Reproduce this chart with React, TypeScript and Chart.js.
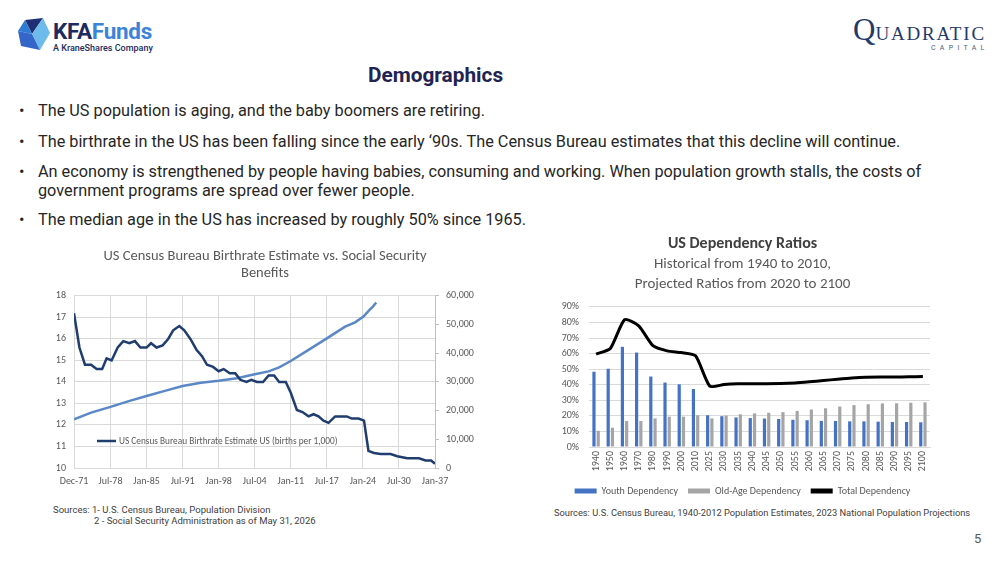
import React, { useEffect, useRef } from 'react';
import { Chart, registerables } from 'chart.js';

Chart.register(...registerables);

// ---------- Left chart data ----------
const birthYears = [1971.92, 1972.9, 1973.9, 1975.0, 1976.0, 1977.0, 1977.8, 1978.7, 1979.8, 1980.8, 1981.9, 1982.9, 1983.9, 1985.0, 1985.8, 1986.8, 1987.9, 1988.9, 1989.8, 1990.9, 1991.8, 1992.9, 1994.0, 1995.0, 1995.9, 1997.0, 1998.0, 1998.9, 2000.0, 2001.0, 2001.9, 2003.0, 2003.9, 2004.9, 2006.0, 2007.0, 2008.0, 2008.9, 2010.1, 2011.0, 2012.1, 2013.1, 2014.2, 2015.1, 2016.0, 2016.9, 2017.8, 2019.0, 2019.9, 2021.1, 2022.0, 2023.2, 2024.2, 2025.0, 2026.0, 2027.2, 2029.0, 2030.2, 2032.0, 2034.1, 2035.3, 2036.3, 2037.0];
const birthRates = [17.2, 15.6, 14.8, 14.8, 14.6, 14.6, 15.1, 15.0, 15.6, 15.9, 15.8, 15.9, 15.6, 15.6, 15.8, 15.6, 15.7, 16.0, 16.4, 16.6, 16.4, 16.0, 15.5, 15.2, 14.8, 14.7, 14.5, 14.6, 14.4, 14.4, 14.1, 14.0, 14.1, 14.0, 14.0, 14.3, 14.3, 14.0, 14.0, 13.5, 12.7, 12.6, 12.4, 12.5, 12.4, 12.2, 12.1, 12.4, 12.4, 12.4, 12.3, 12.3, 12.2, 10.8, 10.7, 10.65, 10.65, 10.55, 10.45, 10.45, 10.35, 10.35, 10.2];
const ssYears = [1971.92, 1975.0, 1978.5, 1981.8, 1985.0, 1988.3, 1991.5, 1994.8, 1998.0, 2001.3, 2004.5, 2007.0, 2008.9, 2011.0, 2014.2, 2017.5, 2020.8, 2022.6, 2024.1, 2025.2, 2025.8, 2026.4];
const ssBenefits = [17000, 19300, 21300, 23300, 25100, 26900, 28600, 29700, 30400, 31300, 32700, 33700, 35100, 37300, 41200, 45200, 49300, 50800, 52800, 55100, 56300, 57700];
const leftTickYears = [1971.92, 1978.5, 1985, 1991.5, 1998, 2004.5, 2011, 2017.5, 2024, 2030.5, 2037];
const leftTickLabels = ['Dec-71', 'Jul-78', 'Jan-85', 'Jul-91', 'Jan-98', 'Jul-04', 'Jan-11', 'Jul-17', 'Jan-24', 'Jul-30', 'Jan-37'];
const birthLabel = 'US Census Bureau Birthrate Estimate US (births per 1,000)';
const ssLabel = 'Social Security Benefits';
const leftTitle = ['US Census Bureau Birthrate Estimate vs. Social Security', 'Benefits'];

// ---------- Right chart data ----------
const depYears = ['1940', '1950', '1960', '1970', '1980', '1990', '2000', '2010', '2025', '2030', '2035', '2040', '2045', '2050', '2055', '2060', '2065', '2070', '2075', '2080', '2085', '2090', '2095', '2100'];
const youthDep = [48.4, 50.3, 64.4, 60.7, 45.3, 41.4, 40.3, 37.3, 20.4, 19.8, 19.0, 18.6, 18.3, 18.0, 17.5, 17.2, 16.8, 16.7, 16.5, 16.5, 16.3, 16.1, 16.1, 15.9];
const oldAgeDep = [10.4, 12.4, 16.7, 16.7, 18.4, 19.5, 19.5, 20.4, 18.4, 20.2, 21.0, 21.6, 22.0, 22.4, 23.2, 24.1, 24.9, 26.0, 26.9, 27.5, 28.0, 28.1, 28.4, 28.7];
const totalDep = [59.7, 63.3, 81.8, 77.9, 65.1, 61.8, 60.7, 58.6, 39.1, 40.1, 40.6, 40.7, 40.7, 40.8, 41.2, 41.9, 42.7, 43.6, 44.4, 44.9, 45.0, 45.0, 45.1, 45.3];
const rightTitle = 'US Dependency Ratios';
const rightSubtitle = ['Historical from 1940 to 2010,', 'Projected Ratios from 2020 to 2100'];

// ---------- Slide text ----------
const bullets = [
  ['The US population is aging, and the baby boomers are retiring.'],
  ['The birthrate in the US has been falling since the early \u201890s. The Census Bureau estimates that this decline will continue.'],
  ['An economy is strengthened by people having babies, consuming and working. When population growth stalls, the costs of', 'government programs are spread over fewer people.'],
  ['The median age in the US has increased by roughly 50% since 1965.'],
];

const CHART_FONT = 'Carlito, Lato, sans-serif';
const GRID = '#D9D9D9';
const TXT = '#595959';

const insideLegend = {
  id: 'insideLegend',
  afterDraw(chart: any) {
    const { ctx, chartArea } = chart;
    const ds = chart.data.datasets[0];
    const x0 = chartArea.left + 23;
    const y = chartArea.bottom - 27;
    ctx.save();
    ctx.strokeStyle = ds.borderColor;
    ctx.lineWidth = 2.5;
    ctx.beginPath();
    ctx.moveTo(x0, y);
    ctx.lineTo(x0 + 19, y);
    ctx.stroke();
    ctx.fillStyle = TXT;
    ctx.font = `9.3px ${CHART_FONT}`;
    ctx.textBaseline = 'middle';
    ctx.fillText(ds.label, x0 + 22, y + 0.5);
    ctx.restore();
  },
};

function leftConfig(): any {
  return {
    type: 'line',
    data: {
      datasets: [
        {
          label: birthLabel,
          data: birthYears.map((x, i) => ({ x, y: birthRates[i] })),
          yAxisID: 'y',
          borderColor: '#1F3D6E',
          borderWidth: 2.5,
          pointRadius: 0,
          tension: 0,
        },
        {
          label: ssLabel,
          data: ssYears.map((x, i) => ({ x, y: ssBenefits[i] })),
          yAxisID: 'y1',
          borderColor: '#5A88C6',
          borderWidth: 2.5,
          pointRadius: 0,
          tension: 0,
        },
      ],
    },
    options: {
      animation: false,
      responsive: false,
      layout: { padding: 0 },
      plugins: {
        legend: { display: false },
        tooltip: { enabled: false },
        title: {
          display: true,
          text: leftTitle,
          color: TXT,
          font: { family: CHART_FONT, size: 14.5, weight: 'normal', lineHeight: 1.17 },
          padding: { top: 8, bottom: 14 },
        },
      },
      scales: {
        x: {
          type: 'linear',
          min: leftTickYears[0],
          max: leftTickYears[leftTickYears.length - 1],
          afterBuildTicks: (s: any) => {
            s.ticks = leftTickYears.map((v) => ({ value: v }));
          },
          afterFit: (s: any) => {
            s.height = 27;
          },
          ticks: {
            autoSkip: false,
            maxRotation: 0,
            padding: 7,
            color: TXT,
            font: { family: CHART_FONT, size: 10 },
            callback: (_v: any, i: number) => leftTickLabels[i],
          },
          grid: { color: GRID, drawTicks: false },
          border: { color: GRID },
        },
        y: {
          position: 'left',
          min: 10,
          max: 18,
          afterFit: (s: any) => {
            s.width = 34;
          },
          ticks: { stepSize: 1, autoSkip: false, padding: 8, color: TXT, font: { family: CHART_FONT, size: 10 } },
          grid: { color: GRID, drawTicks: false },
          border: { color: GRID },
        },
        y1: {
          position: 'right',
          min: 0,
          max: 60000,
          afterFit: (s: any) => {
            s.width = 55;
          },
          ticks: {
            stepSize: 10000,
            autoSkip: false,
            padding: 7,
            color: TXT,
            font: { family: CHART_FONT, size: 10 },
            callback: (v: number) => v.toLocaleString('en-US'),
          },
          grid: { drawOnChartArea: false, tickLength: 4, color: '#BFBFBF' },
          border: { color: '#BFBFBF' },
        },
      },
    },
    plugins: [insideLegend],
  };
}

function rightConfig(): any {
  return {
    type: 'bar',
    data: {
      labels: depYears,
      datasets: [
        {
          type: 'bar',
          label: 'Youth Dependency',
          data: youthDep,
          backgroundColor: '#4472C4',
          categoryPercentage: 0.6,
          barPercentage: 0.75,
          order: 1,
        },
        {
          type: 'bar',
          label: 'Old-Age Dependency',
          data: oldAgeDep,
          backgroundColor: '#A5A5A5',
          categoryPercentage: 0.6,
          barPercentage: 0.75,
          order: 1,
        },
        {
          type: 'line',
          label: 'Total Dependency',
          data: totalDep,
          borderColor: '#000000',
          backgroundColor: '#000000',
          borderWidth: 3,
          pointRadius: 0,
          tension: 0.2,
          order: 0,
        },
      ],
    },
    options: {
      animation: false,
      responsive: false,
      layout: { padding: { left: 0, right: 15, top: 0, bottom: 0 } },
      plugins: {
        tooltip: { enabled: false },
        title: {
          display: true,
          text: rightTitle,
          color: '#404040',
          font: { family: CHART_FONT, size: 16, weight: 'bold', lineHeight: 1.25 },
          padding: { top: 4, bottom: 0 },
        },
        subtitle: {
          display: true,
          text: rightSubtitle,
          color: TXT,
          font: { family: CHART_FONT, size: 15, weight: 'normal', lineHeight: 1.333 },
          padding: { top: 0, bottom: 13 },
        },
        legend: {
          position: 'bottom',
          labels: {
            boxWidth: 22,
            boxHeight: 5,
            padding: 10,
            color: TXT,
            font: { family: CHART_FONT, size: 10 },
            sort: (a: any, b: any) => a.datasetIndex - b.datasetIndex,
            generateLabels: (chart: any) => {
              const items = Chart.defaults.plugins.legend.labels.generateLabels(chart);
              return items.map((it: any) => ({ ...it, lineWidth: 0 }));
            },
          },
        },
      },
      scales: {
        x: {
          afterFit: (s: any) => {
            s.height = 29;
          },
          ticks: {
            autoSkip: false,
            minRotation: 90,
            maxRotation: 90,
            padding: 4,
            color: TXT,
            font: { family: CHART_FONT, size: 10 },
          },
          grid: { display: false, drawTicks: false },
          border: { color: GRID },
        },
        y: {
          min: 0,
          max: 90,
          afterFit: (s: any) => {
            s.width = 34;
          },
          ticks: {
            stepSize: 10,
            autoSkip: false,
            padding: 10,
            color: TXT,
            font: { family: CHART_FONT, size: 10 },
            callback: (v: number) => v + '%',
          },
          grid: { color: GRID, drawTicks: false },
          border: { display: false },
        },
      },
    },
  };
}

function ChartCanvas({ config, left, top, width, height }: any) {
  const ref = useRef<HTMLCanvasElement>(null);
  useEffect(() => {
    const chart = new Chart(ref.current as HTMLCanvasElement, config());
    return () => chart.destroy();
  }, []);
  return (
    <canvas
      ref={ref}
      width={width}
      height={height}
      style={{ position: 'absolute', left, top, width, height }}
    />
  );
}

const SLIDE_FONT = 'Roboto, "Noto Sans", sans-serif';

export default function App() {
  const lineTops = [100.5, 131.5, 161.5, 209.5];
  return (
    <div
      style={{
        position: 'absolute',
        left: 0,
        top: 0,
        width: 1000,
        height: 563,
        background: '#ffffff',
        overflow: 'hidden',
        fontFamily: SLIDE_FONT,
      }}
    >
      {/* KFA logo */}
      <svg width={60} height={60} style={{ position: 'absolute', left: 0, top: 0 }}>
        <polygon points="25,20 43,18 32,34" fill="#1E2F73" />
        <polygon points="25,20 32,34 18,31" fill="#2E7BD3" />
        <polygon points="43,18 50,33 40,50 32,34" fill="#6DBBEB" />
        <polygon points="18,31 32,34 40,50 21,46" fill="#3366C8" />
      </svg>
      <div style={{ position: 'absolute', left: 53, top: 18, fontSize: 22.5, fontWeight: 700, letterSpacing: -0.3, lineHeight: '26px', whiteSpace: 'nowrap' }}>
        <span style={{ color: '#1D2B5E' }}>KFA</span>
        <span style={{ color: '#3C84D8' }}>Funds</span>
      </div>
      <div style={{ position: 'absolute', left: 53, top: 43, fontSize: 9, fontWeight: 500, color: '#1D2B5E', lineHeight: '11px', whiteSpace: 'nowrap' }}>
        A KraneShares Company
      </div>

      {/* Quadratic logo */}
      <div style={{ position: 'absolute', left: 853, top: 15, fontFamily: '"Liberation Serif", serif', color: '#1F3A6B', whiteSpace: 'nowrap', lineHeight: '30px' }}>
        <span style={{ fontSize: 31 }}>Q</span>
        <span style={{ fontSize: 19, letterSpacing: 1.8 }}>UADRATIC</span>
      </div>
      <div style={{ position: 'absolute', left: 931, top: 44, fontSize: 7, letterSpacing: 4.3, color: '#4A5D80', fontFamily: SLIDE_FONT, lineHeight: '8px', whiteSpace: 'nowrap' }}>
        CAPITAL
      </div>

      {/* Title */}
      <div style={{ position: 'absolute', left: 0, width: 871, top: 62, textAlign: 'center', fontSize: 20.8, fontWeight: 700, color: '#232352', lineHeight: '26px' }}>
        Demographics
      </div>

      {/* Bullets */}
      {bullets.map((b, i) => (
        <div key={i} style={{ position: 'absolute', left: 0, top: lineTops[i], fontSize: 16.25, color: '#262626', lineHeight: '19px', whiteSpace: 'nowrap' }}>
          <span style={{ position: 'absolute', left: 19 }}>•</span>
          {b.map((line, j) => (
            <div key={j} style={{ position: 'absolute', left: 38, top: j * 19 }}>
              {line}
            </div>
          ))}
        </div>
      ))}

      {/* Charts */}
      <ChartCanvas config={leftConfig} left={40} top={240} width={450} height={255} />
      <ChartCanvas config={rightConfig} left={555} top={230} width={390} height={276} />

      {/* Sources */}
      <div style={{ position: 'absolute', left: 53, top: 504, fontSize: 9.5, color: '#404040', lineHeight: '11px', whiteSpace: 'nowrap' }}>
        Sources: 1- U.S. Census Bureau, Population Division
      </div>
      <div style={{ position: 'absolute', left: 94, top: 515, fontSize: 9.5, color: '#404040', lineHeight: '11px', whiteSpace: 'nowrap' }}>
        2 - Social Security Administration as of May 31, 2026
      </div>
      <div style={{ position: 'absolute', left: 554, top: 507, fontSize: 9.3, color: '#404040', lineHeight: '11px', whiteSpace: 'nowrap' }}>
        Sources: U.S. Census Bureau, 1940-2012 Population Estimates, 2023 National Population Projections
      </div>

      {/* Page number */}
      <div style={{ position: 'absolute', left: 974, top: 531, fontSize: 13, color: '#595959', lineHeight: '15px' }}>5</div>
    </div>
  );
}
